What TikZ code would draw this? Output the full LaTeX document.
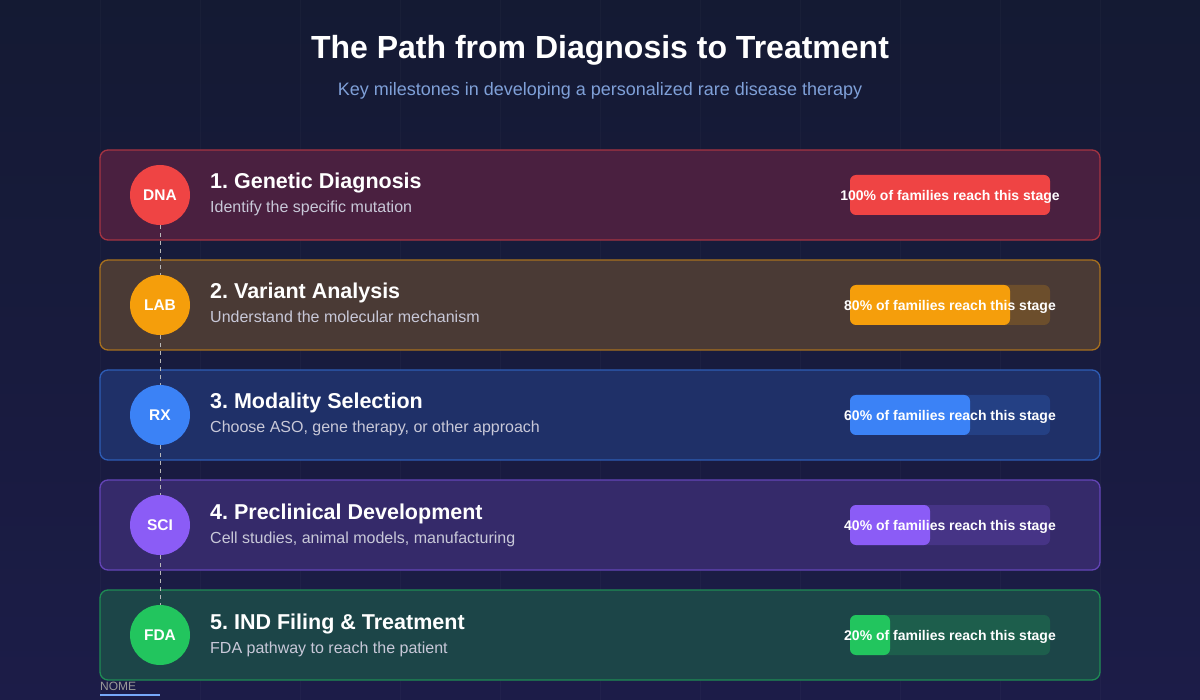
\documentclass[tikz,border=0pt]{standalone}
\usepackage{fontspec}
\setmainfont{Liberation Sans}
\usetikzlibrary{calc}
\frenchspacing
\definecolor{bgtop}{HTML}{141A33}
\definecolor{bgbot}{HTML}{1C1C48}
\definecolor{cRed}{HTML}{EF4444}
\definecolor{cOra}{HTML}{F59E0B}
\definecolor{cBlu}{HTML}{3B82F6}
\definecolor{cPur}{HTML}{8B5CF6}
\definecolor{cGre}{HTML}{22C55E}
\definecolor{fRed}{HTML}{4A2040}
\definecolor{fOra}{HTML}{4A3A35}
\definecolor{fBlu}{HTML}{1F3068}
\definecolor{fPur}{HTML}{352A6A}
\definecolor{fGre}{HTML}{1C4548}
\definecolor{subc}{HTML}{7FA0D8}
\definecolor{descc}{HTML}{C8C8D8}
\tikzset{
  badge/.style={circle, fill=#1, minimum size=60pt, inner sep=0pt, text=white, font=\bfseries\fontsize{15.5}{18}\selectfont},
  stitle/.style={anchor=base west, text=white, font=\bfseries\fontsize{21.5}{25}\selectfont, inner sep=0pt},
  sdesc/.style={anchor=base west, text=descc, font=\fontsize{16}{19}\selectfont, inner sep=0pt},
  bartext/.style={text=white, font=\bfseries\fontsize{14}{16}\selectfont, inner sep=0pt},
  link/.style={draw=gray!55, line width=1pt, dash pattern=on 4pt off 4pt},
}
\begin{document}
\begin{tikzpicture}[x=1pt,y=-1pt]
\useasboundingbox (0,0) rectangle (1200,700);
\shade[top color=bgtop, bottom color=bgbot] (0,0) rectangle (1200,700);
\foreach \gx in {100,200,...,1100} \draw[white, opacity=0.025, line width=1pt] (\gx,0) -- (\gx,700);
\node[text=white, font=\bfseries\fontsize{32}{38}\selectfont] (title) at (600,50) {The Path from Diagnosis to Treatment};
\node[text=subc, font=\fontsize{18}{22}\selectfont] (sub) at (600,91) {Key milestones in developing a personalized rare disease therapy};
\foreach \i/\c/\pct/\lab/\t/\d in {
 1/Red/100/DNA/{1. Genetic Diagnosis}/{Identify the specific mutation},
 2/Ora/80/LAB/{2. Variant Analysis}/{Understand the molecular mechanism},
 3/Blu/60/RX/{3. Modality Selection}/{Choose ASO, gene therapy, or other approach},
 4/Pur/40/SCI/{4. Preclinical Development}/{Cell studies, animal models, manufacturing},
 5/Gre/20/FDA/{5. IND Filing \& Treatment}/{FDA pathway to reach the patient}} {
  \pgfmathsetmacro{\cy}{195+110*(\i-1)}
  \node[draw=c\c!55!f\c, line width=1.3pt, rounded corners=8pt, fill=f\c, minimum width=1000pt, minimum height=90pt, inner sep=0pt] (card\i) at (600,\cy) {};
  \node[stitle] (t\i) at (210,\cy-6) {\t};
  \node[sdesc] (d\i) at (210,\cy+18) {\d};
  \fill[c\c, opacity=0.2, rounded corners=6pt] (850,\cy-20) rectangle (1050,\cy+20);
  \pgfmathsetmacro{\bw}{2*\pct}
  \fill[c\c, rounded corners=6pt] (850,\cy-20) rectangle (850+\bw,\cy+20);
  \node[bartext] (b\i) at (950,\cy+1.5) {\pct\% of families reach this stage};
}
\node[badge=cRed] (c1) at (160,195) {DNA};
\node[badge=cOra] (c2) at (160,305) {LAB};
\node[badge=cBlu] (c3) at (160,415) {RX};
\node[badge=cPur] (c4) at (160,525) {SCI};
\node[badge=cGre] (c5) at (160,635) {FDA};
\foreach \a/\b in {1/2,2/3,3/4,4/5} \draw[link] (c\a.south) -- (c\b.north);
\node[anchor=base west, text=gray!80, font=\fontsize{12}{14}\selectfont, inner sep=0pt] (nome) at (100,690) {NOME};
\coordinate (ul1) at (100,695);
\coordinate (ul2) at (160,695);
\draw[cBlu!70, line width=1.2pt] (ul1) -- (ul2);
\end{tikzpicture}
\end{document}
